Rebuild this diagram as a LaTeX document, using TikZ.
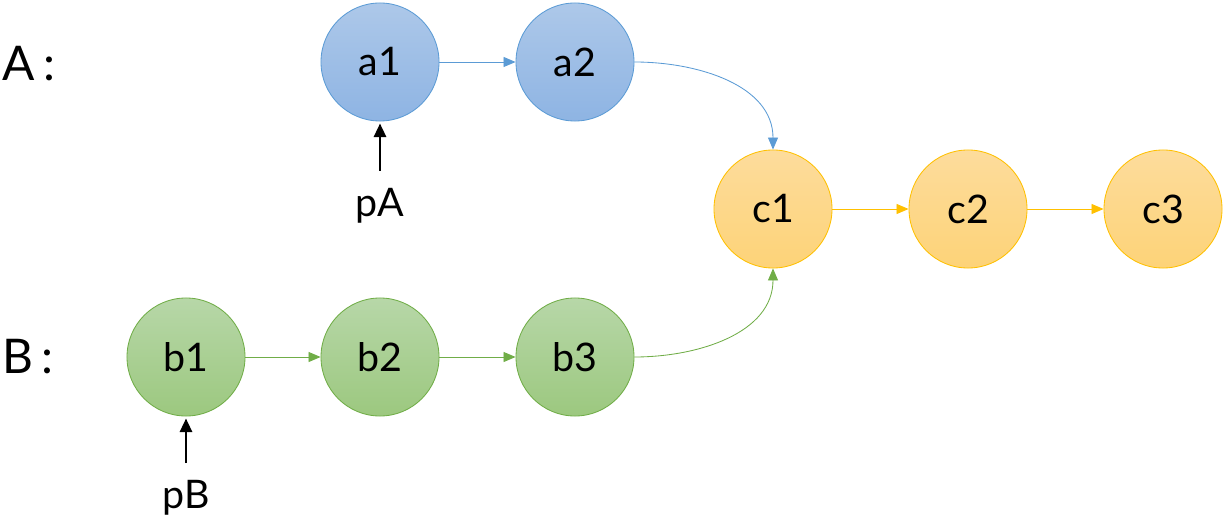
\documentclass[tikz,border=0pt]{standalone}
\usepackage{fontspec}
\setmainfont{Lato}
\usetikzlibrary{arrows.meta, positioning}
\definecolor{blueline}{HTML}{5B9BD5}
\definecolor{bluetop}{HTML}{ADC8E9}
\definecolor{bluebot}{HTML}{8EB4E3}
\definecolor{greenline}{HTML}{70AD47}
\definecolor{greentop}{HTML}{B7D7A8}
\definecolor{greenbot}{HTML}{9CC87F}
\definecolor{orangeline}{HTML}{FFC000}
\definecolor{orangetop}{HTML}{FDDC9C}
\definecolor{orangebot}{HTML}{FDD378}
\tikzset{
  ball/.style={circle, minimum size=2.95cm, inner sep=0pt, line width=0.6pt,
    font=\fontsize{28}{28}\selectfont},
  bluenode/.style={ball, draw=blueline, top color=bluetop, bottom color=bluebot},
  greennode/.style={ball, draw=greenline, top color=greentop, bottom color=greenbot},
  orangenode/.style={ball, draw=orangeline, top color=orangetop, bottom color=orangebot},
  link/.style={line width=0.6pt, -{Triangle[length=0.3cm, width=0.25cm]}},
  ptr/.style={line width=2pt, -{Triangle[length=0.34cm, width=0.3cm]}},
  listname/.style={font=\fontsize{34}{34}\selectfont, inner sep=0pt, anchor=west},
  ptrname/.style={font=\fontsize{28}{28}\selectfont, inner sep=0pt, anchor=north}
}
\begin{document}
\begin{tikzpicture}[x=0.025cm, y=-0.025cm]
  \useasboundingbox (0,0) rectangle (1229,525);
  % lists
  \node[listname] (A) at (2,64) {A\hspace{6pt}:};
  \node[listname] (B) at (2,357) {B\hspace{6pt}:};

  \node[bluenode] (a1) at (380,62) {a1};
  \node[bluenode] (a2) at (575,62) {a2};

  \node[greennode] (b1) at (186,357) {b1};
  \node[greennode] (b2) at (380,357) {b2};
  \node[greennode] (b3) at (575,357) {b3};

  \node[orangenode] (c1) at (773,209) {c1};
  \node[orangenode] (c2) at (968,209) {c2};
  \node[orangenode] (c3) at (1163,209) {c3};

  \draw[link, blueline] (a1) -- (a2);
  \draw[link, blueline] (a2.east) to[out=0, in=90] (c1.north);
  \draw[link, greenline] (b1) -- (b2);
  \draw[link, greenline] (b2) -- (b3);
  \draw[link, greenline] (b3.east) to[out=0, in=-90] (c1.south);
  \draw[link, orangeline] (c1) -- (c2);
  \draw[link, orangeline] (c2) -- (c3);

  % pointers
  \node[ptrname] (pA) at (380,188) {pA};
  \node[ptrname] (pB) at (186,480) {pB};
  \draw[ptr, shorten <=17*0.025cm, shorten >=2*0.025cm] (pA.north) -- (a1.south);
  \draw[ptr, shorten <=17*0.025cm, shorten >=2*0.025cm] (pB.north) -- (b1.south);
\end{tikzpicture}
\end{document}
